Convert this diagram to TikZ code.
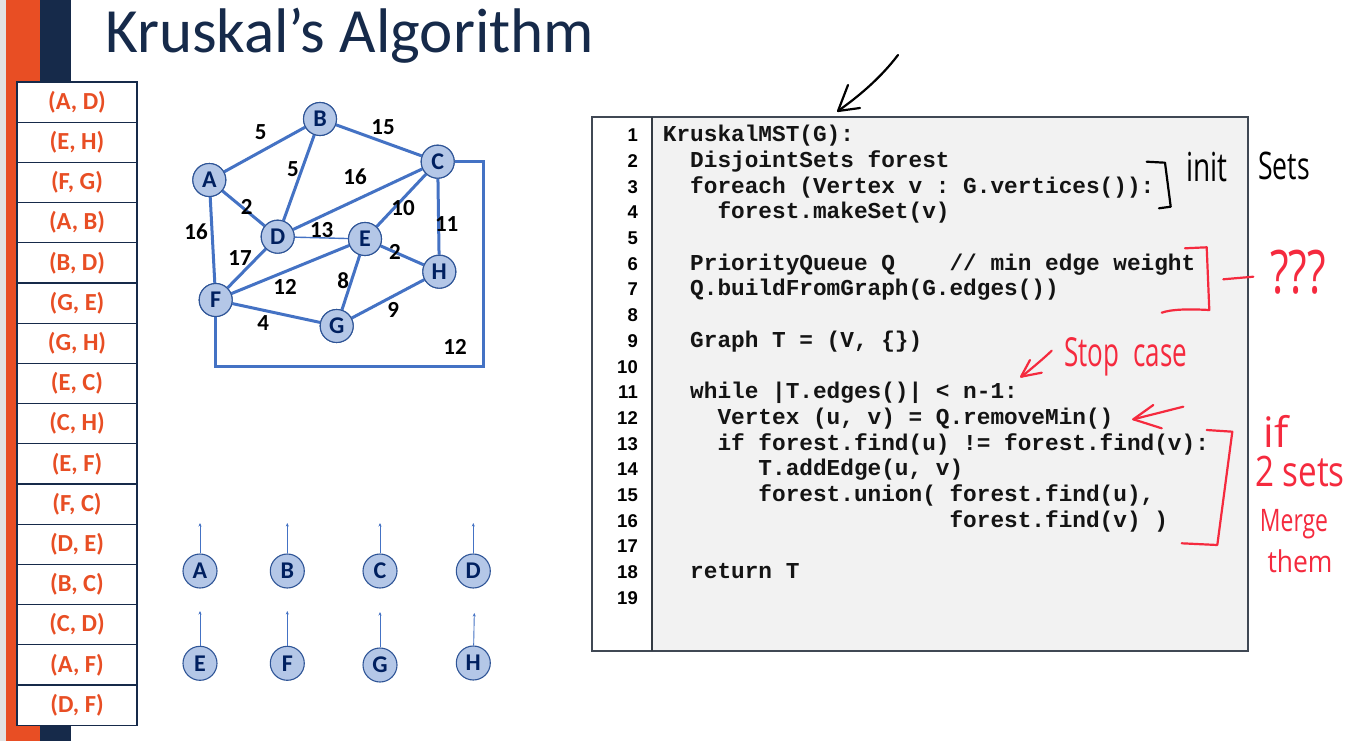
\documentclass[tikz,border=0pt]{standalone}
\usepackage{fontspec}
\usepackage{graphicx}
\setmainfont{Carlito}
\newfontfamily\codefont{Liberation Mono}
\newfontfamily\numfont{Liberation Sans}
\newfontfamily\handfont{Open Sans}
\usetikzlibrary{arrows.meta}
\frenchspacing

\definecolor{slideorange}{RGB}{232,78,36}
\definecolor{slidenavy}{RGB}{22,42,74}
\definecolor{stripgray}{RGB}{226,226,226}
\definecolor{vfill}{RGB}{180,199,231}
\definecolor{vline}{RGB}{47,85,151}
\definecolor{vtext}{RGB}{0,32,96}
\definecolor{edgeblue}{RGB}{68,114,196}
\definecolor{codebg}{RGB}{242,242,242}
\definecolor{boxgray}{RGB}{64,72,84}
\definecolor{inkred}{RGB}{245,42,62}

\tikzset{
  vertex/.style={circle, draw=vline, line width=1.1pt, fill=vfill,
    minimum size=33pt, inner sep=0pt, text=vtext,
    font=\bfseries\fontsize{24}{24}\selectfont},
  setvertex/.style={vertex, minimum size=34pt},
  edge/.style={draw=edgeblue, line width=3pt},
  thinedge/.style={draw=edgeblue, line width=1.4pt},
  weight/.style={inner sep=0pt, text=black,
    font=\bfseries\fontsize{23}{23}\selectfont},
  parentptr/.style={draw=edgeblue, line width=0.9pt,
    -{Stealth[length=3.5pt,width=3pt]}},
  edgecell/.style={draw=slidenavy, line width=1.1pt, fill=white,
    minimum width=120pt, minimum height=40.2pt, inner sep=0pt,
    text=slideorange, font=\bfseries\fontsize{24.5}{24.5}\selectfont},
  linenum/.style={anchor=base east, inner sep=0pt, text=black,
    font=\numfont\bfseries\fontsize{18.5}{18.5}\selectfont},
  codetext/.style={anchor=base west, inner sep=0pt, text=black!92,
    font=\codefont\bfseries\fontsize{22.75}{22.75}\selectfont},
  inkblack/.style={draw=black, line width=2.2pt, line cap=round, line join=round},
  inkredline/.style={draw=inkred, line width=2.2pt, line cap=round, line join=round},
  handblack/.style={inner sep=0pt, text=black, font=\handfont},
  handred/.style={inner sep=0pt, text=inkred, font=\handfont},
}

% one line of the listing: line number, indent in characters, text
\newcommand\codeline[3]{%
  \node[codetext] (code#1) at ({662.7+#2*13.65}, {141.7+(#1-1)*25.7}) {#3};}

\begin{document}
\begin{tikzpicture}[x=1pt, y=-1pt]
\useasboundingbox (0,0) rectangle (1371,741);
\fill[white] (0,0) rectangle (1371,741);

% slide side bars
\fill[stripgray] (0,0) rectangle (6,741);
\fill[slideorange] (6,0) rectangle (39.5,741);
\fill[slidenavy] (39.5,0) rectangle (71,741);

% title
\node[anchor=base west, inner sep=0pt, text=slidenavy,
  font=\fontsize{63}{63}\selectfont] (title) at (105,53) {Kruskal’s Algorithm};

% sorted edge list
\foreach \lab [count=\i] in {{(A, D)},{(E, H)},{(F, G)},{(A, B)},{(B, D)},{(G, E)},
  {(G, H)},{(E, C)},{(C, H)},{(E, F)},{(F, C)},{(D, E)},{(B, C)},{(C, D)},{(A, F)},{(D, F)}}
  \node[edgecell] (cell\i) at (77, 61.9+\i*40.2) {\lab};

% weighted graph
\node[vertex] (A) at (209.3,180) {A};
\node[vertex] (B) at (320,119) {B};
\node[vertex] (C) at (437.7,161.7) {C};
\node[vertex] (D) at (277.7,236.7) {D};
\node[vertex] (E) at (365,239) {E};
\node[vertex] (H) at (439.3,271.7) {H};
\node[vertex] (F) at (215.7,300) {F};
\node[vertex] (G) at (336.7,326) {G};

\coordinate (cf1) at (483,161.7);
\coordinate (cf2) at (483,366);
\coordinate (cf3) at (215.7,366);

\draw[edge] (A) -- (B);
\draw[edge] (B) -- (C);
\draw[edge] (A) -- (D);
\draw[edge] (B) -- (D);
\draw[edge] (D) -- (C);
\draw[edge] (C) -- (E);
\draw[edge] (C) -- (H);
\draw[thinedge] (D) -- (E);
\draw[edge] (E) -- (H);
\draw[edge] (A) -- (F);
\draw[edge] (D) -- (F);
\draw[edge] (F) -- (E);
\draw[edge] (E) -- (G);
\draw[edge] (F) -- (G);
\draw[edge] (G) -- (H);
\draw[edge, line join=miter] (C) -- (cf1) -- (cf2) -- (cf3) -- (F);

% redraw vertices above the edges
\foreach \v in {A,B,C,D,E,F,G,H}
  \path (\v) node[vertex] {\v};

\node[weight] (wAB) at (260.7,131.7) {5};
\node[weight] (wBC) at (383,126.7) {15};
\node[weight] (wBD) at (293,169) {5};
\node[weight] (wDC) at (355,177) {16};
\node[weight] (wAD) at (246.7,207) {2};
\node[weight] (wCE) at (403,208) {10};
\node[weight] (wCH) at (446.7,224) {11};
\node[weight] (wAF) at (196,231.7) {16};
\node[weight] (wDE) at (321.7,230) {13};
\node[weight] (wEH) at (395,252) {2};
\node[weight] (wDF) at (240,258) {17};
\node[weight] (wEG) at (343.3,280.7) {8};
\node[weight] (wFE) at (285,286.7) {12};
\node[weight] (wGH) at (393.3,310) {9};
\node[weight] (wFG) at (263.3,323.3) {4};
\node[weight] (wCF) at (455,346.7) {12};

% disjoint-set forest: every vertex is its own parent
\foreach \n/\x/\y/\px/\py in {A/200/571/200/523, B/287.3/571/287.3/523,
  C/380/571/380/523, D/473.3/571/473.3/523, E/200/663.3/200/611,
  F/287.3/663.3/287.3/611, G/380/665/380/612, H/473.3/663/474.3/613} {
  \node[setvertex] (s\n) at (\x,\y) {\n};
  \coordinate (p\n) at (\px,\py);
  \draw[parentptr] (s\n) -- (p\n);
}

% listing box
\fill[white] (592,117) rectangle (652,651);
\fill[codebg] (652,117) rectangle (1248,651);
\draw[boxgray, line width=1.5pt] (592,117) rectangle (1248,651);
\draw[boxgray!80!black, line width=1.5pt] (652,117) -- (652,651);

\foreach \i in {1,...,19}
  \node[linenum] (num\i) at (638, {141.7+(\i-1)*25.7}) {\i};

\codeline{1}{0}{KruskalMST(G):}
\codeline{2}{2}{DisjointSets forest}
\codeline{3}{2}{foreach (Vertex v : G.vertices()):}
\codeline{4}{4}{forest.makeSet(v)}
\codeline{6}{2}{PriorityQueue Q~~~~// min edge weight}
\codeline{7}{2}{Q.buildFromGraph(G.edges())}
\codeline{9}{2}{Graph T = (V, \{\})}
\codeline{11}{2}{while |T.edges()| < n-1:}
\codeline{12}{4}{Vertex (u, v) = Q.removeMin()}
\codeline{13}{4}{if forest.find(u) != forest.find(v):}
\codeline{14}{7}{T.addEdge(u, v)}
\codeline{15}{7}{forest.union( forest.find(u),}
\codeline{16}{21}{forest.find(v) )}
\codeline{18}{2}{return T}

% ink notes
\draw[inkblack] (898,55) .. controls (882,76) and (862,94) .. (838,111);
\draw[inkblack] (848,85) -- (838,111) -- (860,108);

\draw[inkblack] (1146.7,161.7) -- (1165,162.7) -- (1170.7,206.7) -- (1159,208.3);
\node[handblack] (noteinit) at (1207,167)
  {\fontsize{40}{40}\selectfont\scalebox{0.7}[1]{init}};
\node[handblack] (notesets) at (1284,166)
  {\fontsize{38}{38}\selectfont\scalebox{0.7}[1]{Sets}};

\draw[inkredline] (1185,248.3) -- (1206.7,247.3) -- (1209.3,310)
  .. controls (1190,309) and (1172,309) .. (1161.7,312.7);
\draw[inkredline] (1223.3,279.3) -- (1253.3,276.7);
\node[handred] (noteq) at (1298,272)
  {\fontsize{60}{60}\selectfont\scalebox{0.72}[1]{???}};

\draw[inkredline] (1051.7,350.7) .. controls (1042,360) and (1032,368) .. (1021.7,376.7);
\draw[inkredline] (1030,360) -- (1021,376.7) -- (1041.7,372.7);
\node[handred, anchor=base west] (notestop) at (1064,366)
  {\fontsize{40}{40}\selectfont\scalebox{0.65}[1]{Stop}\hspace{14pt}\scalebox{0.65}[1]{case}};

\draw[inkredline] (1183.3,406.7) -- (1133.3,419.3);
\draw[inkredline] (1153.3,405) -- (1133.3,419.3) -- (1161.7,428.3);

\draw[inkredline] (1206.7,430) -- (1232.3,431.7) -- (1217.3,545) -- (1181.7,543.3);
\node[handred] (noteif) at (1276,431) {\fontsize{42}{42}\selectfont if};
\node[handred] (notetwo) at (1300,471)
  {\fontsize{42}{42}\selectfont\scalebox{0.79}[1]{2 sets}};
\node[handred] (notemerge) at (1294,524)
  {\fontsize{31}{31}\selectfont\scalebox{0.74}[1]{Merge}};
\node[handred] (notethem) at (1300,561)
  {\fontsize{30}{30}\selectfont\scalebox{0.88}[1]{them}};
\end{tikzpicture}
\end{document}
